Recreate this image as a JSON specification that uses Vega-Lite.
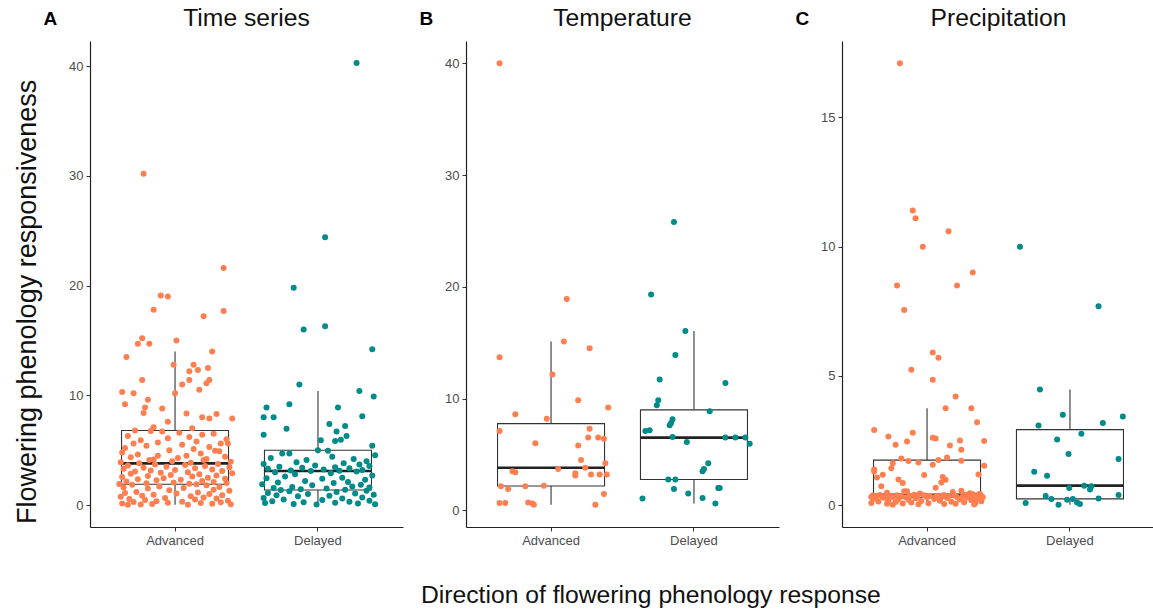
{
  "$schema": "https://vega.github.io/schema/vega-lite/v6.json",
  "padding": {"left": 13, "top": 6, "right": 0, "bottom": 0},
  "config": {
    "font": "Liberation Sans",
    "view": {"stroke": null},
    "axis": {"grid": false, "domainColor": "#222222", "domainWidth": 1.2, "tickColor": "#333333", "tickSize": 4, "labelColor": "#4d4d4d", "labelFontSize": 13, "labelFont": "Liberation Sans", "labelPadding": 3},
    "title": {"font": "Liberation Sans", "fontWeight": "normal", "color": "#111111"}
  },
  "title": {"text": "Direction of flowering phenology response", "orient": "bottom", "anchor": "start", "frame": "group", "fontSize": 24.7, "baseline": "alphabetic", "offset": 56, "dx": 331},
  "datasets": {
    "A": [
      {"d":"Advanced","v":30.2,"j":-0.22},{"d":"Advanced","v":21.6,"j":0.34},{"d":"Advanced","v":19.1,"j":-0.10},{"d":"Advanced","v":19.0,"j":-0.05},{"d":"Advanced","v":17.8,"j":-0.15},{"d":"Advanced","v":17.7,"j":0.34},{"d":"Advanced","v":17.2,"j":0.20},{"d":"Advanced","v":15.2,"j":-0.23},{"d":"Advanced","v":15.0,"j":0.01},{"d":"Advanced","v":14.7,"j":-0.26},
      {"d":"Advanced","v":14.7,"j":-0.18},{"d":"Advanced","v":14.0,"j":0.26},{"d":"Advanced","v":13.5,"j":-0.34},{"d":"Advanced","v":12.8,"j":-0.01},{"d":"Advanced","v":12.8,"j":0.13},{"d":"Advanced","v":12.5,"j":0.23},{"d":"Advanced","v":12.3,"j":0.16},{"d":"Advanced","v":12.2,"j":0.10},{"d":"Advanced","v":11.4,"j":0.10},{"d":"Advanced","v":11.4,"j":-0.23},
      {"d":"Advanced","v":11.4,"j":0.24},{"d":"Advanced","v":11.1,"j":0.22},{"d":"Advanced","v":11.0,"j":0.05},{"d":"Advanced","v":10.5,"j":0.17},{"d":"Advanced","v":10.3,"j":-0.37},{"d":"Advanced","v":10.2,"j":-0.29},{"d":"Advanced","v":10.2,"j":0.0},{"d":"Advanced","v":9.6,"j":-0.19},{"d":"Advanced","v":9.2,"j":-0.35},{"d":"Advanced","v":8.9,"j":-0.21},
      {"d":"Advanced","v":8.8,"j":-0.09},{"d":"Advanced","v":8.4,"j":-0.22},{"d":"Advanced","v":8.35,"j":0.08},{"d":"Advanced","v":8.3,"j":0.29},{"d":"Advanced","v":8.0,"j":0.19},{"d":"Advanced","v":7.9,"j":0.24},{"d":"Advanced","v":7.9,"j":0.40},{"d":"Advanced","v":7.6,"j":-0.05},{"d":"Advanced","v":7.1,"j":-0.15},{"d":"Advanced","v":7.0,"j":0.12},
      {"d":"Advanced","v":6.8,"j":-0.28},
      {"d":"Advanced","v":6.75,"j":-0.17},{"d":"Advanced","v":6.7,"j":-0.09},{"d":"Advanced","v":6.6,"j":0.03},{"d":"Advanced","v":6.5,"j":0.27},{"d":"Advanced","v":6.4,"j":0.19},{"d":"Advanced","v":6.3,"j":-0.33},{"d":"Advanced","v":6.2,"j":0.10},{"d":"Advanced","v":6.1,"j":-0.05},{"d":"Advanced","v":6.0,"j":0.36},{"d":"Advanced","v":5.9,"j":-0.24},
      {"d":"Advanced","v":5.8,"j":0.15},{"d":"Advanced","v":5.7,"j":-0.12},{"d":"Advanced","v":5.6,"j":0.32},{"d":"Advanced","v":5.6,"j":0.37},{"d":"Advanced","v":5.6,"j":-0.29},{"d":"Advanced","v":5.5,"j":0.05},{"d":"Advanced","v":5.4,"j":-0.20},{"d":"Advanced","v":5.3,"j":0.24},{"d":"Advanced","v":5.2,"j":-0.35},{"d":"Advanced","v":5.1,"j":0.13},
      {"d":"Advanced","v":5.0,"j":-0.04},{"d":"Advanced","v":4.95,"j":0.28},{"d":"Advanced","v":4.9,"j":0.31},{"d":"Advanced","v":4.8,"j":-0.37},{"d":"Advanced","v":4.7,"j":0.18},{"d":"Advanced","v":4.6,"j":-0.26},{"d":"Advanced","v":4.5,"j":0.08},{"d":"Advanced","v":4.5,"j":-0.12},{"d":"Advanced","v":4.4,"j":0.35},{"d":"Advanced","v":4.35,"j":-0.31},
      {"d":"Advanced","v":4.3,"j":0.02},{"d":"Advanced","v":4.2,"j":0.22},{"d":"Advanced","v":4.15,"j":-0.15},{"d":"Advanced","v":4.1,"j":-0.18},{"d":"Advanced","v":4.1,"j":0.20},{"d":"Advanced","v":4.0,"j":-0.02},{"d":"Advanced","v":3.95,"j":0.39},{"d":"Advanced","v":3.9,"j":-0.38},{"d":"Advanced","v":3.85,"j":0.11},
      {"d":"Advanced","v":3.8,"j":-0.25},
      {"d":"Advanced","v":3.75,"j":0.30},{"d":"Advanced","v":3.7,"j":-0.14},{"d":"Advanced","v":3.65,"j":0.07},{"d":"Advanced","v":3.6,"j":-0.33},{"d":"Advanced","v":3.55,"j":0.21},{"d":"Advanced","v":3.5,"j":-0.06},{"d":"Advanced","v":3.45,"j":0.38},{"d":"Advanced","v":3.4,"j":-0.22},{"d":"Advanced","v":3.35,"j":0.14},{"d":"Advanced","v":3.3,"j":-0.36},
      {"d":"Advanced","v":3.25,"j":0.26},{"d":"Advanced","v":3.2,"j":0.0},{"d":"Advanced","v":3.15,"j":-0.17},{"d":"Advanced","v":3.1,"j":0.33},{"d":"Advanced","v":3.05,"j":-0.28},{"d":"Advanced","v":3.0,"j":0.09},{"d":"Advanced","v":2.95,"j":-0.10},{"d":"Advanced","v":2.9,"j":0.40},{"d":"Advanced","v":2.85,"j":-0.31},{"d":"Advanced","v":2.8,"j":0.17},
      {"d":"Advanced","v":2.75,"j":-0.03},{"d":"Advanced","v":2.7,"j":0.29},{"d":"Advanced","v":2.65,"j":-0.19},{"d":"Advanced","v":2.6,"j":0.12},{"d":"Advanced","v":2.55,"j":-0.37},{"d":"Advanced","v":2.5,"j":0.23},{"d":"Advanced","v":2.45,"j":-0.08},{"d":"Advanced","v":2.4,"j":0.35},{"d":"Advanced","v":2.35,"j":-0.26},{"d":"Advanced","v":2.3,"j":0.04},
      {"d":"Advanced","v":2.25,"j":-0.13},{"d":"Advanced","v":2.2,"j":0.19},{"d":"Advanced","v":2.15,"j":-0.34},{"d":"Advanced","v":2.1,"j":0.27},{"d":"Advanced","v":2.05,"j":-0.01},{"d":"Advanced","v":2.0,"j":0.36},{"d":"Advanced","v":1.98,"j":-0.20},{"d":"Advanced","v":1.95,"j":0.10},{"d":"Advanced","v":1.92,"j":-0.39},
      {"d":"Advanced","v":1.9,"j":0.15},
      {"d":"Advanced","v":1.85,"j":-0.30},{"d":"Advanced","v":1.8,"j":0.22},{"d":"Advanced","v":1.7,"j":-0.11},{"d":"Advanced","v":1.65,"j":0.31},{"d":"Advanced","v":1.6,"j":-0.36},{"d":"Advanced","v":1.55,"j":0.06},{"d":"Advanced","v":1.5,"j":-0.19},{"d":"Advanced","v":1.4,"j":0.27},{"d":"Advanced","v":1.35,"j":-0.04},{"d":"Advanced","v":1.3,"j":0.38},
      {"d":"Advanced","v":1.2,"j":-0.27},{"d":"Advanced","v":1.15,"j":0.16},{"d":"Advanced","v":1.1,"j":-0.35},{"d":"Advanced","v":1.05,"j":0.01},{"d":"Advanced","v":1.0,"j":0.24},{"d":"Advanced","v":0.95,"j":-0.15},{"d":"Advanced","v":0.9,"j":0.33},{"d":"Advanced","v":0.85,"j":-0.23},{"d":"Advanced","v":0.8,"j":0.11},{"d":"Advanced","v":0.75,"j":-0.38},
      {"d":"Advanced","v":0.7,"j":0.20},{"d":"Advanced","v":0.65,"j":-0.07},{"d":"Advanced","v":0.6,"j":0.29},{"d":"Advanced","v":0.55,"j":-0.32},{"d":"Advanced","v":0.5,"j":0.14},{"d":"Advanced","v":0.45,"j":-0.21},{"d":"Advanced","v":0.4,"j":0.37},{"d":"Advanced","v":0.35,"j":-0.13},{"d":"Advanced","v":0.3,"j":0.05},{"d":"Advanced","v":0.28,"j":-0.29},
      {"d":"Advanced","v":0.25,"j":0.32},{"d":"Advanced","v":0.2,"j":-0.05},{"d":"Advanced","v":0.18,"j":0.18},{"d":"Advanced","v":0.15,"j":-0.37},{"d":"Advanced","v":0.12,"j":0.26},{"d":"Advanced","v":0.1,"j":-0.16},{"d":"Advanced","v":0.08,"j":0.39},{"d":"Advanced","v":0.05,"j":-0.24},{"d":"Advanced","v":0.03,"j":0.09},{"d":"Advanced","v":0.02,"j":-0.33},
      {"d":"Delayed","v":40.3,"j":0.27},{"d":"Delayed","v":24.4,"j":0.05},{"d":"Delayed","v":19.8,"j":-0.17},{"d":"Delayed","v":16.3,"j":0.05},{"d":"Delayed","v":16.0,"j":-0.10},{"d":"Delayed","v":14.2,"j":0.38},{"d":"Delayed","v":11.0,"j":-0.13},{"d":"Delayed","v":10.4,"j":0.29},{"d":"Delayed","v":9.9,"j":0.39},{"d":"Delayed","v":9.2,"j":-0.20},
      {"d":"Delayed","v":8.9,"j":-0.36},{"d":"Delayed","v":8.9,"j":0.14},{"d":"Delayed","v":8.1,"j":0.31},{"d":"Delayed","v":8.0,"j":-0.38},{"d":"Delayed","v":8.0,"j":-0.31},{"d":"Delayed","v":7.4,"j":0.08},{"d":"Delayed","v":7.2,"j":0.19},{"d":"Delayed","v":6.95,"j":-0.22},{"d":"Delayed","v":6.7,"j":0.13},{"d":"Delayed","v":6.4,"j":-0.38},
      {"d":"Delayed","v":6.3,"j":0.20},{"d":"Delayed","v":5.9,"j":0.02},{"d":"Delayed","v":5.85,"j":0.12},{"d":"Delayed","v":5.95,"j":0.16},{"d":"Delayed","v":5.4,"j":0.38},
      {"d":"Delayed","v":5.0,"j":0.0},
      {"d":"Delayed","v":4.95,"j":0.07},{"d":"Delayed","v":4.7,"j":-0.25},{"d":"Delayed","v":4.7,"j":-0.20},{"d":"Delayed","v":4.55,"j":0.40},{"d":"Delayed","v":4.4,"j":0.10},{"d":"Delayed","v":4.3,"j":-0.33},{"d":"Delayed","v":4.2,"j":0.25},{"d":"Delayed","v":4.1,"j":-0.08},{"d":"Delayed","v":4.0,"j":0.34},{"d":"Delayed","v":3.9,"j":-0.15},
      {"d":"Delayed","v":3.8,"j":0.18},{"d":"Delayed","v":3.75,"j":-0.38},{"d":"Delayed","v":3.7,"j":0.29},{"d":"Delayed","v":3.6,"j":-0.02},{"d":"Delayed","v":3.55,"j":0.36},{"d":"Delayed","v":3.5,"j":-0.27},{"d":"Delayed","v":3.45,"j":0.12},{"d":"Delayed","v":3.4,"j":-0.11},{"d":"Delayed","v":3.35,"j":0.22},{"d":"Delayed","v":3.3,"j":-0.35},
      {"d":"Delayed","v":3.25,"j":0.04},{"d":"Delayed","v":3.2,"j":0.31},{"d":"Delayed","v":3.15,"j":-0.19},{"d":"Delayed","v":3.12,"j":0.15},
      {"d":"Delayed","v":3.1,"j":-0.05},
      {"d":"Delayed","v":3.05,"j":0.27},{"d":"Delayed","v":3.0,"j":-0.30},{"d":"Delayed","v":2.9,"j":0.09},{"d":"Delayed","v":2.8,"j":-0.16},{"d":"Delayed","v":2.7,"j":0.38},{"d":"Delayed","v":2.6,"j":-0.23},{"d":"Delayed","v":2.5,"j":0.17},{"d":"Delayed","v":2.45,"j":-0.36},{"d":"Delayed","v":2.4,"j":0.03},{"d":"Delayed","v":2.3,"j":0.33},
      {"d":"Delayed","v":2.2,"j":-0.09},{"d":"Delayed","v":2.1,"j":0.21},{"d":"Delayed","v":2.05,"j":-0.28},{"d":"Delayed","v":2.0,"j":0.11},{"d":"Delayed","v":1.9,"j":-0.39},{"d":"Delayed","v":1.85,"j":0.30},{"d":"Delayed","v":1.8,"j":-0.04},{"d":"Delayed","v":1.7,"j":0.24},{"d":"Delayed","v":1.65,"j":-0.18},{"d":"Delayed","v":1.6,"j":0.36},
      {"d":"Delayed","v":1.55,"j":-0.31},{"d":"Delayed","v":1.5,"j":0.06},{"d":"Delayed","v":1.45,"j":-0.12},{"d":"Delayed","v":1.4,"j":0.19},
      {"d":"Delayed","v":1.37,"j":-0.26},
      {"d":"Delayed","v":1.3,"j":0.34},{"d":"Delayed","v":1.25,"j":-0.20},{"d":"Delayed","v":1.2,"j":0.13},{"d":"Delayed","v":1.1,"j":-0.35},{"d":"Delayed","v":1.05,"j":0.26},{"d":"Delayed","v":1.0,"j":-0.07},{"d":"Delayed","v":0.95,"j":0.39},{"d":"Delayed","v":0.9,"j":-0.29},{"d":"Delayed","v":0.85,"j":0.08},{"d":"Delayed","v":0.8,"j":-0.14},
      {"d":"Delayed","v":0.7,"j":0.31},{"d":"Delayed","v":0.65,"j":-0.38},{"d":"Delayed","v":0.6,"j":0.17},{"d":"Delayed","v":0.5,"j":-0.24},{"d":"Delayed","v":0.45,"j":0.03},{"d":"Delayed","v":0.4,"j":0.36},{"d":"Delayed","v":0.35,"j":-0.32},{"d":"Delayed","v":0.3,"j":0.22},{"d":"Delayed","v":0.25,"j":-0.10},{"d":"Delayed","v":0.2,"j":0.12},
      {"d":"Delayed","v":0.18,"j":-0.37},{"d":"Delayed","v":0.15,"j":0.28},{"d":"Delayed","v":0.1,"j":-0.17},{"d":"Delayed","v":0.08,"j":0.40},{"d":"Delayed","v":0.05,"j":-0.01}
    ],
    "B": [
      {"d":"Advanced","v":40.0,"j":-0.36},{"d":"Advanced","v":18.9,"j":0.11},{"d":"Advanced","v":15.1,"j":0.09},{"d":"Advanced","v":14.5,"j":0.27},{"d":"Advanced","v":13.7,"j":-0.36},{"d":"Advanced","v":12.15,"j":0.01},{"d":"Advanced","v":9.85,"j":0.19},{"d":"Advanced","v":9.2,"j":0.40},{"d":"Advanced","v":8.6,"j":-0.25},{"d":"Advanced","v":8.2,"j":-0.03},
      {"d":"Advanced","v":7.1,"j":-0.36},{"d":"Advanced","v":7.3,"j":0.27},{"d":"Advanced","v":6.5,"j":0.26},{"d":"Advanced","v":6.5,"j":0.33},{"d":"Advanced","v":6.4,"j":0.37},{"d":"Advanced","v":6.0,"j":-0.11},{"d":"Advanced","v":5.8,"j":0.19},{"d":"Advanced","v":4.5,"j":0.21},{"d":"Advanced","v":4.2,"j":0.38},{"d":"Advanced","v":3.8,"j":0.24},
      {"d":"Advanced","v":3.7,"j":0.05},{"d":"Advanced","v":3.5,"j":-0.27},{"d":"Advanced","v":3.4,"j":-0.25},{"d":"Advanced","v":3.1,"j":0.17},{"d":"Advanced","v":3.3,"j":0.17},{"d":"Advanced","v":3.2,"j":0.28},{"d":"Advanced","v":3.2,"j":0.34},{"d":"Advanced","v":3.2,"j":0.39},{"d":"Advanced","v":2.15,"j":-0.35},{"d":"Advanced","v":1.9,"j":-0.30},
      {"d":"Advanced","v":2.15,"j":-0.18},{"d":"Advanced","v":2.2,"j":-0.05},{"d":"Advanced","v":1.45,"j":0.37},{"d":"Advanced","v":0.65,"j":-0.36},{"d":"Advanced","v":0.65,"j":-0.32},{"d":"Advanced","v":0.7,"j":-0.16},{"d":"Advanced","v":0.6,"j":-0.13},{"d":"Advanced","v":0.5,"j":-0.12},{"d":"Advanced","v":0.5,"j":0.31},
      {"d":"Delayed","v":25.8,"j":-0.14},{"d":"Delayed","v":19.3,"j":-0.30},{"d":"Delayed","v":16.05,"j":-0.06},{"d":"Delayed","v":13.9,"j":-0.13},{"d":"Delayed","v":11.7,"j":-0.24},{"d":"Delayed","v":11.4,"j":0.22},{"d":"Delayed","v":9.85,"j":-0.25},{"d":"Delayed","v":9.4,"j":-0.26},{"d":"Delayed","v":8.85,"j":0.11},{"d":"Delayed","v":8.15,"j":-0.15},
      {"d":"Delayed","v":7.8,"j":-0.16},{"d":"Delayed","v":7.6,"j":-0.17},{"d":"Delayed","v":7.1,"j":-0.34},{"d":"Delayed","v":7.15,"j":-0.31},{"d":"Delayed","v":6.55,"j":-0.15},{"d":"Delayed","v":6.5,"j":0.22},{"d":"Delayed","v":6.5,"j":0.29},{"d":"Delayed","v":6.5,"j":0.36},{"d":"Delayed","v":5.95,"j":0.39},{"d":"Delayed","v":6.1,"j":-0.05},
      {"d":"Delayed","v":4.2,"j":0.10},{"d":"Delayed","v":3.7,"j":0.07},{"d":"Delayed","v":3.5,"j":0.06},{"d":"Delayed","v":2.75,"j":-0.18},{"d":"Delayed","v":2.75,"j":-0.13},{"d":"Delayed","v":1.9,"j":-0.14},{"d":"Delayed","v":2.0,"j":0.17},{"d":"Delayed","v":2.0,"j":0.18},{"d":"Delayed","v":1.05,"j":-0.36},{"d":"Delayed","v":1.5,"j":-0.04},
      {"d":"Delayed","v":1.1,"j":0.06},{"d":"Delayed","v":0.6,"j":0.15}
    ],
    "C": [
      {"d":"Advanced","v":17.1,"j":-0.19},{"d":"Advanced","v":11.4,"j":-0.10},{"d":"Advanced","v":11.1,"j":-0.08},{"d":"Advanced","v":10.6,"j":0.15},{"d":"Advanced","v":10.0,"j":-0.03},{"d":"Advanced","v":9.0,"j":0.32},{"d":"Advanced","v":8.5,"j":-0.21},{"d":"Advanced","v":8.5,"j":0.21},{"d":"Advanced","v":7.55,"j":-0.16},{"d":"Advanced","v":5.9,"j":0.04},
      {"d":"Advanced","v":5.7,"j":0.08},{"d":"Advanced","v":5.24,"j":-0.11},{"d":"Advanced","v":4.85,"j":0.04},{"d":"Advanced","v":4.2,"j":0.20},{"d":"Advanced","v":3.75,"j":0.13},{"d":"Advanced","v":3.75,"j":0.31},{"d":"Advanced","v":3.2,"j":0.35},{"d":"Advanced","v":2.9,"j":-0.37},{"d":"Advanced","v":2.8,"j":-0.10},{"d":"Advanced","v":2.65,"j":-0.27},
      {"d":"Advanced","v":2.6,"j":0.04},{"d":"Advanced","v":2.58,"j":0.06},{"d":"Advanced","v":2.46,"j":-0.14},{"d":"Advanced","v":2.5,"j":0.23},{"d":"Advanced","v":2.48,"j":0.40},{"d":"Advanced","v":2.33,"j":-0.22},{"d":"Advanced","v":2.3,"j":0.16},{"d":"Advanced","v":2.14,"j":0.24},{"d":"Advanced","v":1.84,"j":0.14},{"d":"Advanced","v":1.8,"j":-0.18},
      {"d":"Advanced","v":1.74,"j":0.08},
      {"d":"Advanced","v":1.71,"j":0.24},{"d":"Advanced","v":1.7,"j":-0.13},{"d":"Advanced","v":1.65,"j":-0.06},{"d":"Advanced","v":1.62,"j":-0.24},{"d":"Advanced","v":1.56,"j":0.04},{"d":"Advanced","v":1.52,"j":0.40},{"d":"Advanced","v":1.42,"j":-0.25},{"d":"Advanced","v":1.38,"j":-0.37},{"d":"Advanced","v":1.3,"j":-0.37},{"d":"Advanced","v":1.18,"j":0.36},
      {"d":"Advanced","v":1.17,"j":-0.31},{"d":"Advanced","v":1.16,"j":-0.02},{"d":"Advanced","v":1.09,"j":0.11},{"d":"Advanced","v":1.07,"j":-0.35},{"d":"Advanced","v":0.99,"j":-0.20},{"d":"Advanced","v":0.98,"j":0.13},{"d":"Advanced","v":0.87,"j":0.10},{"d":"Advanced","v":0.85,"j":-0.17},{"d":"Advanced","v":0.73,"j":-0.32},{"d":"Advanced","v":0.67,"j":0.06},
      {"d":"Advanced","v":0.55,"j":0.24},{"d":"Advanced","v":0.53,"j":-0.16},{"d":"Advanced","v":0.53,"j":-0.14},{"d":"Advanced","v":0.5,"j":0.18},{"d":"Advanced","v":0.48,"j":-0.28},{"d":"Advanced","v":0.46,"j":0.30},{"d":"Advanced","v":0.45,"j":-0.05},{"d":"Advanced","v":0.44,"j":0.37},{"d":"Advanced","v":0.42,"j":0.32},
      {"d":"Advanced","v":0.4,"j":-0.09},
      {"d":"Advanced","v":0.395,"j":0.27},{"d":"Advanced","v":0.39,"j":-0.33},{"d":"Advanced","v":0.385,"j":0.12},{"d":"Advanced","v":0.38,"j":-0.21},{"d":"Advanced","v":0.38,"j":0.35},{"d":"Advanced","v":0.375,"j":-0.02},{"d":"Advanced","v":0.37,"j":0.19},{"d":"Advanced","v":0.365,"j":-0.38},{"d":"Advanced","v":0.36,"j":0.08},{"d":"Advanced","v":0.36,"j":-0.26},
      {"d":"Advanced","v":0.355,"j":0.30},{"d":"Advanced","v":0.35,"j":-0.12},{"d":"Advanced","v":0.345,"j":0.02},{"d":"Advanced","v":0.34,"j":0.38},{"d":"Advanced","v":0.34,"j":-0.35},{"d":"Advanced","v":0.335,"j":0.15},{"d":"Advanced","v":0.33,"j":-0.18},{"d":"Advanced","v":0.33,"j":0.25},{"d":"Advanced","v":0.325,"j":-0.29},{"d":"Advanced","v":0.32,"j":0.06},
      {"d":"Advanced","v":0.32,"j":-0.07},{"d":"Advanced","v":0.315,"j":0.33},{"d":"Advanced","v":0.315,"j":-0.39},{"d":"Advanced","v":0.31,"j":0.21},{"d":"Advanced","v":0.31,"j":-0.24},{"d":"Advanced","v":0.305,"j":0.10},{"d":"Advanced","v":0.305,"j":-0.15},{"d":"Advanced","v":0.302,"j":0.39},{"d":"Advanced","v":0.301,"j":-0.31},
      {"d":"Advanced","v":0.3,"j":0.0},
      {"d":"Advanced","v":0.29,"j":0.28},{"d":"Advanced","v":0.28,"j":-0.30},{"d":"Advanced","v":0.27,"j":0.14},{"d":"Advanced","v":0.26,"j":-0.08},{"d":"Advanced","v":0.25,"j":0.36},{"d":"Advanced","v":0.24,"j":-0.37},{"d":"Advanced","v":0.23,"j":0.05},{"d":"Advanced","v":0.22,"j":-0.20},{"d":"Advanced","v":0.21,"j":0.23},{"d":"Advanced","v":0.2,"j":-0.13},
      {"d":"Advanced","v":0.19,"j":0.31},{"d":"Advanced","v":0.18,"j":-0.27},{"d":"Advanced","v":0.17,"j":0.09},{"d":"Advanced","v":0.16,"j":-0.04},{"d":"Advanced","v":0.15,"j":0.38},{"d":"Advanced","v":0.14,"j":-0.34},{"d":"Advanced","v":0.13,"j":0.17},{"d":"Advanced","v":0.12,"j":-0.22},{"d":"Advanced","v":0.11,"j":0.26},{"d":"Advanced","v":0.1,"j":-0.11},
      {"d":"Advanced","v":0.09,"j":0.34},{"d":"Advanced","v":0.08,"j":-0.39},{"d":"Advanced","v":0.07,"j":0.01},{"d":"Advanced","v":0.06,"j":-0.17},{"d":"Advanced","v":0.05,"j":0.20},{"d":"Advanced","v":0.05,"j":-0.28},{"d":"Advanced","v":0.04,"j":0.12},{"d":"Advanced","v":0.03,"j":-0.06},{"d":"Advanced","v":0.02,"j":0.33},{"d":"Advanced","v":0.01,"j":-0.24},
      {"d":"Delayed","v":10.0,"j":-0.35},{"d":"Delayed","v":7.69,"j":0.20},{"d":"Delayed","v":4.47,"j":-0.21},{"d":"Delayed","v":3.49,"j":-0.05},{"d":"Delayed","v":3.08,"j":-0.22},{"d":"Delayed","v":3.18,"j":0.23},{"d":"Delayed","v":3.43,"j":0.37},{"d":"Delayed","v":2.76,"j":0.08},{"d":"Delayed","v":2.54,"j":-0.09},{"d":"Delayed","v":1.98,"j":-0.01},
      {"d":"Delayed","v":1.78,"j":0.34},{"d":"Delayed","v":1.29,"j":-0.25},{"d":"Delayed","v":1.13,"j":-0.16},{"d":"Delayed","v":0.75,"j":0.10},{"d":"Delayed","v":0.73,"j":0.15},{"d":"Delayed","v":0.6,"j":0.14},{"d":"Delayed","v":0.66,"j":-0.005},{"d":"Delayed","v":0.25,"j":0.20},{"d":"Delayed","v":0.35,"j":-0.17},{"d":"Delayed","v":0.23,"j":-0.13},
      {"d":"Delayed","v":0.23,"j":0.02},{"d":"Delayed","v":0.1,"j":0.05},{"d":"Delayed","v":0.04,"j":0.07},{"d":"Delayed","v":0.08,"j":-0.31},{"d":"Delayed","v":0.01,"j":-0.08},{"d":"Delayed","v":0.39,"j":0.34},{"d":"Delayed","v":0.2,"j":-0.02}
    ]
  },
  "vconcat": [
    {
      "title": {"text": "Flowering phenology responsiveness", "orient": "left", "fontSize": 27, "offset": 1, "dx": 23},
      "spacing": 16,
      "hconcat": [
        {
          "width": 313, "height": 486,
          "title": {"text": "Time series", "fontSize": 24.7, "baseline": "alphabetic", "offset": -16, "dy": 26, "frame": "group"},
          "data": {"name": "A"},
          "encoding": {
            "x": {"field": "d", "type": "nominal", "scale": {"paddingInner": 0.25, "paddingOuter": 0.22}, "axis": {"title": null, "labelAngle": 0}},
            "y": {"field": "v", "type": "quantitative", "scale": {"domain": [-2.0, 42.3], "nice": false, "zero": false}, "axis": {"values": [0, 10, 20, 30, 40], "title": "A", "titleAngle": 0, "titleFontWeight": "bold", "titleFontSize": 19, "titleColor": "black", "titleX": -47, "titleY": -17, "titleAlign": "left", "titleBaseline": "alphabetic"}}
          },
          "layer": [
            {"mark": {"type": "boxplot", "extent": 1.5, "outliers": false, "size": 107, "color": "white", "box": {"stroke": "#333333", "strokeWidth": 1.1}, "rule": {"color": "#333333", "strokeWidth": 1.1}, "median": {"color": "#222222", "thickness": 2.6, "opacity": 1}}},
            {"mark": {"type": "circle", "size": 36, "opacity": 1}, "encoding": {"xOffset": {"field": "j", "type": "quantitative", "scale": {"domain": [-0.375, 0.375]}}, "color": {"field": "d", "type": "nominal", "scale": {"domain": ["Advanced", "Delayed"], "range": ["#FF7F50", "#008B8B"]}, "legend": null}}}
          ]
        },
        {
          "width": 313, "height": 486,
          "title": {"text": "Temperature", "fontSize": 24.7, "baseline": "alphabetic", "offset": -16, "dy": 26, "frame": "group"},
          "data": {"name": "B"},
          "encoding": {
            "x": {"field": "d", "type": "nominal", "scale": {"paddingInner": 0.25, "paddingOuter": 0.22}, "axis": {"title": null, "labelAngle": 0}},
            "y": {"field": "v", "type": "quantitative", "scale": {"domain": [-1.5, 42.0], "nice": false, "zero": false}, "axis": {"values": [0, 10, 20, 30, 40], "title": "B", "titleAngle": 0, "titleFontWeight": "bold", "titleFontSize": 19, "titleColor": "black", "titleX": -47, "titleY": -17, "titleAlign": "left", "titleBaseline": "alphabetic"}}
          },
          "layer": [
            {"mark": {"type": "boxplot", "extent": 1.5, "outliers": false, "size": 107, "color": "white", "box": {"stroke": "#333333", "strokeWidth": 1.1}, "rule": {"color": "#333333", "strokeWidth": 1.1}, "median": {"color": "#222222", "thickness": 2.6, "opacity": 1}}},
            {"mark": {"type": "circle", "size": 36, "opacity": 1}, "encoding": {"xOffset": {"field": "j", "type": "quantitative", "scale": {"domain": [-0.375, 0.375]}}, "color": {"field": "d", "type": "nominal", "scale": {"domain": ["Advanced", "Delayed"], "range": ["#FF7F50", "#008B8B"]}, "legend": null}}}
          ]
        },
        {
          "width": 313, "height": 486,
          "title": {"text": "Precipitation", "fontSize": 24.7, "baseline": "alphabetic", "offset": -16, "dy": 26, "frame": "group"},
          "data": {"name": "C"},
          "encoding": {
            "x": {"field": "d", "type": "nominal", "scale": {"paddingInner": 0.25, "paddingOuter": 0.22}, "axis": {"title": null, "labelAngle": 0}},
            "y": {"field": "v", "type": "quantitative", "scale": {"domain": [-0.85, 17.96], "nice": false, "zero": false}, "axis": {"values": [0, 5, 10, 15], "title": "C", "titleAngle": 0, "titleFontWeight": "bold", "titleFontSize": 19, "titleColor": "black", "titleX": -47, "titleY": -17, "titleAlign": "left", "titleBaseline": "alphabetic"}}
          },
          "layer": [
            {"mark": {"type": "boxplot", "extent": 1.5, "outliers": false, "size": 107, "color": "white", "box": {"stroke": "#333333", "strokeWidth": 1.1}, "rule": {"color": "#333333", "strokeWidth": 1.1}, "median": {"color": "#222222", "thickness": 2.6, "opacity": 1}}},
            {"mark": {"type": "circle", "size": 36, "opacity": 1}, "encoding": {"xOffset": {"field": "j", "type": "quantitative", "scale": {"domain": [-0.375, 0.375]}}, "color": {"field": "d", "type": "nominal", "scale": {"domain": ["Advanced", "Delayed"], "range": ["#FF7F50", "#008B8B"]}, "legend": null}}}
          ]
        }
      ]
    }
  ]
}
